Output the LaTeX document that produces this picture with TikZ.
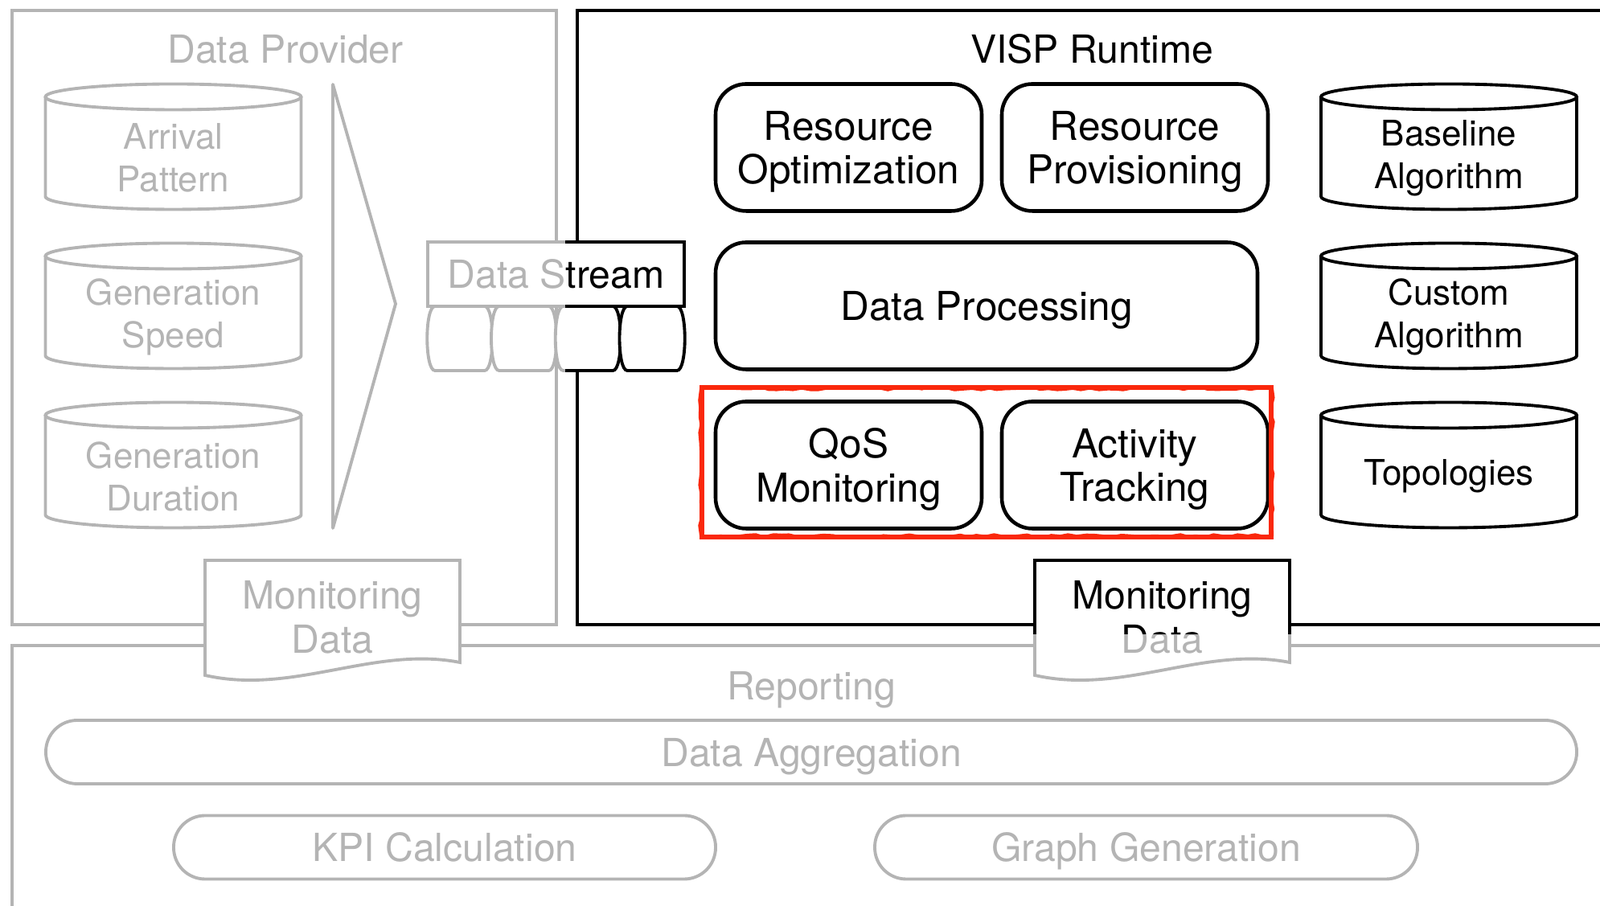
\documentclass[tikz,border=0pt]{standalone}
\usepackage{fontspec}
\setmainfont{TeX Gyre Heros}
\usetikzlibrary{calc,positioning,decorations.pathmorphing}
\definecolor{fadegray}{RGB}{180,180,180}
\definecolor{markred}{RGB}{250,40,12}

\begin{document}
\begin{tikzpicture}[
  line width=1.1pt,
  font=\fontsize{13.7}{15.6}\selectfont,
  proc/.style={draw,fill=white,rounded corners=0.38cm,align=center,line width=1.3pt,minimum width=3.31cm,minimum height=1.58cm,inner sep=0pt,text depth=0pt,font=\fontsize{14.1}{15.6}\selectfont},
  pill/.style={draw=fadegray,text=fadegray,rounded corners=0.39cm,minimum height=0.79cm,inner sep=0pt,text depth=0pt},
  cyltext/.style={align=center,inner sep=0pt,font=\fontsize{12.5}{15.1}\selectfont},
  ]

  \useasboundingbox (0,0) rectangle (19.9,11.27);
  \clip (0,0) rectangle (19.9,11.27);

  % the three areas
  \draw[fadegray] (0.15,3.50) rectangle (6.92,11.14);
  \node (provider) [text=fadegray] at (3.55,10.66) {Data Provider};
  \draw (7.18,3.50) rectangle (20.5,11.14);
  \node (visp) at (13.58,10.66) {VISP Runtime};
  \draw[fadegray] (0.15,-1) rectangle (20.5,3.24);
  \node (reporting) [text=fadegray,text depth=0pt] at (10.09,2.74) {Reporting};

  \foreach \n/\x/\y/\c/\t in {arrival/2.155/9.445/fadegray/{Arrival\\Pattern},
    speed/2.155/7.465/fadegray/{Generation\\Speed},
    duration/2.155/5.485/fadegray/{Generation\\Duration},
    baseline/18.02/9.445/black/{Baseline\\Algorithm},
    custom/18.02/7.465/black/{Custom\\Algorithm},
    topo/18.02/5.485/black/Topologies}
  {
    \draw[\c] (\x-1.59,\y+0.62) -- (\x-1.59,\y-0.62) arc[start angle=180,end angle=360,x radius=1.59,y radius=0.16] -- (\x+1.59,\y+0.62);
    \draw[\c] (\x,\y+0.62) ellipse[x radius=1.59,y radius=0.16];
    \node (\n) [cyltext,text=\c] at (\x,\y-0.14) {\t};
  }

  \draw[fadegray,line join=round] (4.14,10.22) -- (4.92,7.49) -- (4.14,4.70) -- cycle;

  \node (resopt) [proc] at (10.555,9.435) {Resource\\Optimization};
  \node (resprov) [proc] at (14.115,9.435) {Resource\\Provisioning};
  \node (dataproc) [proc,minimum width=6.74cm] at (12.27,7.465) {Data Processing};
  \node (qos) [proc] at (10.555,5.485) {QoS\\Monitoring};
  \node (activity) [proc] at (14.115,5.485) {Activity\\Tracking};

  \draw[markred,line width=1.5pt] (8.73,4.59) rectangle (15.81,6.45);
  \draw[markred,line width=0.6pt,decorate,decoration={random steps,segment length=3pt,amplitude=0.5pt}] (8.71,4.61) rectangle (15.83,6.43);

  % monitoring data, left one
  \draw[fadegray,fill=white] (2.55,4.30) -- (5.72,4.30) -- (5.72,3.03) .. controls (4.65,3.24) and (3.65,2.62) .. (2.55,2.87) -- cycle;
  \node (mondata) [align=center,text=fadegray] at (4.135,3.59) {Monitoring\\Data};

  % monitoring data, right one: black above, gray below
  \foreach \c/\ya/\yb in {black/3.37/4.6, fadegray/2.5/3.37}
  {
    \begin{scope}
      \clip (12.5,\ya) rectangle (16.5,\yb);
      \draw[\c,fill=white] (12.87,4.30) -- (16.04,4.30) -- (16.04,3.03) .. controls (14.97,3.24) and (13.97,2.62) .. (12.87,2.87) -- cycle;
      \node (runmondata) [align=center,text=\c] at (14.455,3.59) {Monitoring\\Data};
    \end{scope}
  }

  % data stream, gray left of the split, black right of it
  \foreach \c/\xa/\xb in {fadegray/5/7.03, black/7.03/9}
  {
    \begin{scope}
      \clip (\xa,6.4) rectangle (\xb,8.5);
      \node (stream) [draw=\c,text=\c,fill=white,minimum width=3.19cm,minimum height=0.80cm,inner sep=0pt] at (6.915,7.86) {Data Stream};
      \foreach \i [evaluate=\i as \x using 5.32+0.7975*\i] in {0,...,3}
        \draw[\c,fill=white] (\x+0.09,7.46) -- (\x+0.7075,7.46) .. controls (\x+0.8375,7.46) and (\x+0.8375,6.66) .. (\x+0.7075,6.66) -- (\x+0.09,6.66) .. controls (\x-0.04,6.66) and (\x-0.04,7.46) .. (\x+0.09,7.46) -- cycle;
    \end{scope}
  }

  \node (aggregation) [pill,minimum width=19.04cm] at (10.09,1.915) {Data Aggregation};
  \node (kpi) [pill,minimum width=6.74cm] at (5.53,0.73) {KPI Calculation};
  \node (graphgen) [pill,minimum width=6.75cm] at (14.255,0.73) {Graph Generation};

\end{tikzpicture}
\end{document}
